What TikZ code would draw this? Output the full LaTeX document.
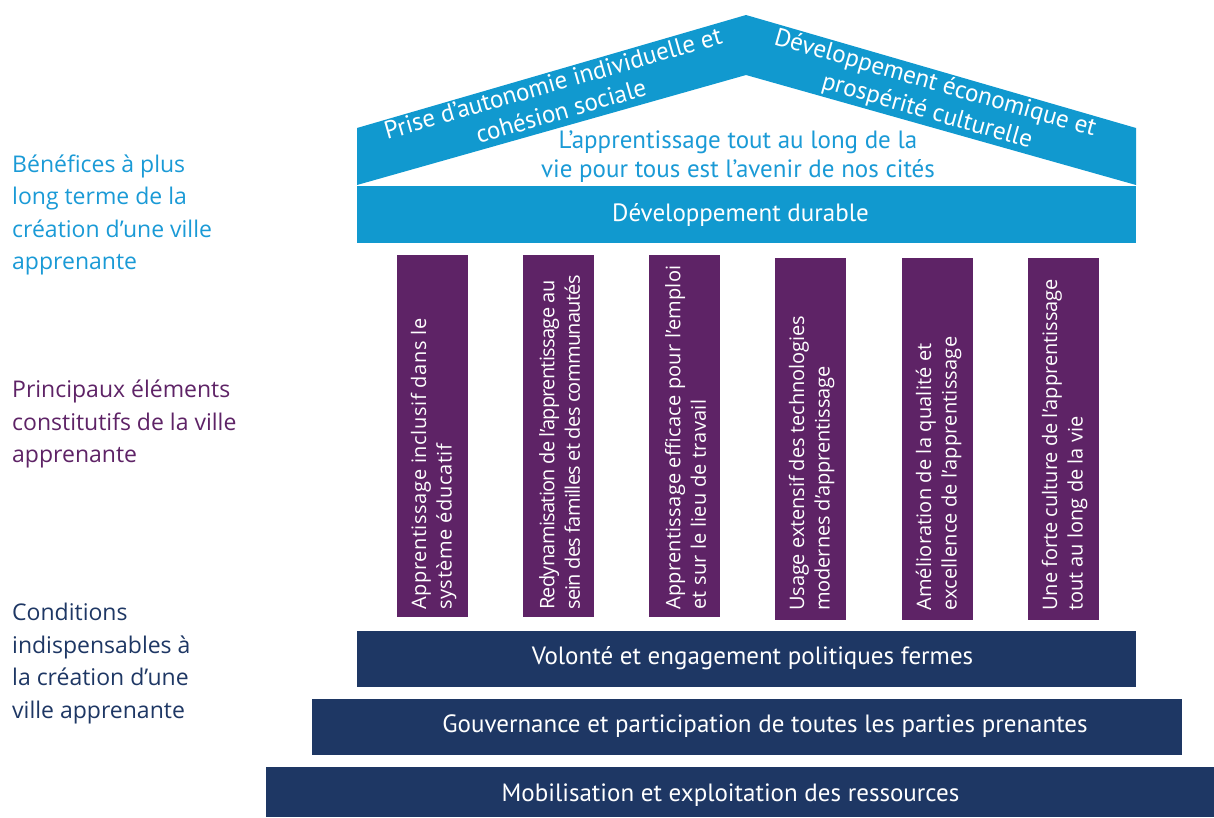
\documentclass[tikz,border=0pt]{standalone}
\usepackage{fontspec}
\setmainfont{Open Sans}
\newfontfamily\narrowfont{PT Sans}
\definecolor{roofblue}{HTML}{1199CF}
\definecolor{labelblue}{HTML}{1A9AD6}
\definecolor{pillarpurple}{HTML}{5E2366}
\definecolor{basenavy}{HTML}{1E3764}
\tikzset{
  sidelabel/.style={anchor=west, align=left, inner sep=0pt,
    font=\fontsize{23}{32.5}\selectfont},
  barbox/.style={inner sep=0pt},
  bartext/.style={inner sep=0pt, text=white,
    font=\narrowfont\fontsize{25}{28}\selectfont},
  pillar/.style={fill=pillarpurple, minimum width=71, minimum height=362, inner sep=0pt},
  pillartext/.style={rotate=90, anchor=west, text=white, align=left, inner sep=0pt,
    font=\fontsize{20}{25.5}\selectfont\addfontfeatures{LetterSpace=#1}},
  pillartext/.default=0,
  rooftext/.style={text=white, align=center, inner sep=0pt,
    font=\narrowfont\fontsize{25}{29}\selectfont},
}
\begin{document}
\begin{tikzpicture}[x=1pt,y=-1pt]
\useasboundingbox (0,0) rectangle (1214,817);

% left-hand captions
\node[sidelabel, text=labelblue] (benefits) at (12,215)
  {Bénéfices à plus\\long terme de la\\création d’une ville\\apprenante};
\node[sidelabel, text=pillarpurple] (elements) at (12,424)
  {Principaux éléments\\constitutifs de la ville\\apprenante};
\node[sidelabel, text=basenavy] (conditions) at (12,663.5)
  {Conditions\\indispensables à\\la création d’une\\ville apprenante};

% roof
\fill[roofblue] (357,185) -- (357,128) -- (746,15) -- (1136,128) -- (1136,185) -- (746,75) -- cycle;
\node[rooftext, rotate=16] (roofleft) at (557,97)
  {Prise d’autonomie individuelle et\\cohésion sociale};
\node[rooftext, rotate=-16] (roofright) at (931,98)
  {Développement économique et\\prospérité culturelle};
\node[rooftext, text=labelblue] (motto) at (738,157)
  {L’apprentissage tout au long de la\\vie pour tous est l’avenir de nos cités};

% entablature
\node[barbox, fill=roofblue, minimum width=779, minimum height=57] (durable) at (746.5,214.5) {};
\node[bartext] (durabletext) at (740.5,214.5) {Développement durable};

% pillars
\node[pillar] (p1) at (432.5,436) {};
\node[pillar] (p2) at (558.5,436) {};
\node[pillar] (p3) at (684.5,436) {};
\node[pillar] (p4) at (810.5,438.5) {};
\node[pillar] (p5) at (937.5,438.5) {};
\node[pillar] (p6) at (1063.5,438.5) {};
\node[pillartext=3] (t1) at (433.5,610) {Apprentissage inclusif dans le\\système éducatif};
\node[pillartext=-3.5] (t2) at (559.5,610) {Redynamisation de l’apprentissage au\\sein des familles et des communautés};
\node[pillartext=1.4] (t3) at (685.5,610) {Apprentissage efficace pour l’emploi\\et sur le lieu de travail};
\node[pillartext=-0.5] (t4) at (811.5,611) {Usage extensif des technologies\\modernes d’apprentissage};
\node[pillartext=1] (t5) at (938.5,611) {Amélioration de la qualité et\\excellence de l’apprentissage};
\node[pillartext] (t6) at (1064.5,611) {Une forte culture de l’apprentissage\\tout au long de la vie};

% steps of the base
\node[barbox, fill=basenavy, minimum width=779, minimum height=56] (will) at (746.5,659) {};
\node[bartext] (willtext) at (752.5,658) {Volonté et engagement politiques fermes};
\node[barbox, fill=basenavy, minimum width=870, minimum height=56] (governance) at (747,727) {};
\node[bartext] (governancetext) at (765,726) {Gouvernance et participation de toutes les parties prenantes};
\node[barbox, fill=basenavy, minimum width=948, minimum height=50] (resources) at (740,792) {};
\node[bartext] (resourcestext) at (730.5,795) {Mobilisation et exploitation des ressources};
\end{tikzpicture}
\end{document}
